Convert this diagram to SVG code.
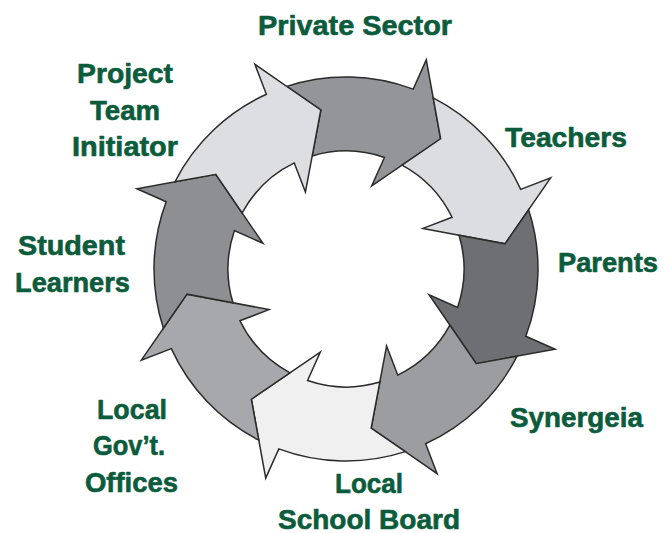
<svg xmlns="http://www.w3.org/2000/svg" xmlns:xlink="http://www.w3.org/1999/xlink" width="665" height="533" viewBox="0 0 665 533">
<style>
.arr{stroke:#2b2b2b;stroke-width:1.5;stroke-linejoin:miter;stroke-miterlimit:12}
.lbl{font-family:"Liberation Sans",Arial,sans-serif;font-weight:bold;font-size:27px;fill:#0b5c3c;stroke:#0b5c3c;stroke-width:0.6;stroke-linejoin:round}
</style>
<defs>
<path id="arrow" d="M -113.84 -113.84 L -155.31 -112.89 A 192 192 0 0 1 -51.31 -185.01 L -57.98 -216.37 L 0 -161 L -28.04 -82.36 L -34.5 -112.84 A 118 118 0 0 0 -93.8 -71.59 Z"/>
</defs>
<rect width="665" height="533" fill="#ffffff"/>
<g id="connectors"></g>
<g id="private-sector">
<use xlink:href="#arrow" href="#arrow" class="arr" fill="#949598" transform="translate(346 269) rotate(36)"/>
<text class="lbl" x="258" y="35" textLength="194" lengthAdjust="spacingAndGlyphs">Private Sector</text>
</g>
<g id="teachers">
<use xlink:href="#arrow" href="#arrow" class="arr" fill="#dcdde0" transform="translate(346 269) rotate(81)"/>
<text class="lbl" x="505" y="147" textLength="122" lengthAdjust="spacingAndGlyphs">Teachers</text>
</g>
<g id="parents">
<use xlink:href="#arrow" href="#arrow" class="arr" fill="#6e6f72" transform="translate(346 269) rotate(126)"/>
<text class="lbl" x="558" y="271.5" textLength="100" lengthAdjust="spacingAndGlyphs">Parents</text>
</g>
<g id="synergeia">
<use xlink:href="#arrow" href="#arrow" class="arr" fill="#9c9da0" transform="translate(346 269) rotate(171)"/>
<text class="lbl" x="510" y="427" textLength="133" lengthAdjust="spacingAndGlyphs">Synergeia</text>
</g>
<g id="local-school-board">
<use xlink:href="#arrow" href="#arrow" class="arr" fill="#f0f0f0" transform="translate(346 269) rotate(216)"/>
<text class="lbl" x="335" y="493" textLength="68" lengthAdjust="spacingAndGlyphs">Local</text>
<text class="lbl" x="278" y="528.5" textLength="182" lengthAdjust="spacingAndGlyphs">School Board</text>
</g>
<g id="local-govt-offices">
<use xlink:href="#arrow" href="#arrow" class="arr" fill="#a7a8ab" transform="translate(346 269) rotate(261)"/>
<text class="lbl" x="97" y="418.5" textLength="70" lengthAdjust="spacingAndGlyphs">Local</text>
<text class="lbl" x="93" y="455" textLength="72" lengthAdjust="spacingAndGlyphs">Gov’t.</text>
<text class="lbl" x="85" y="492" textLength="93" lengthAdjust="spacingAndGlyphs">Offices</text>
</g>
<g id="student-learners">
<use xlink:href="#arrow" href="#arrow" class="arr" fill="#8e8f92" transform="translate(346 269) rotate(306)"/>
<text class="lbl" x="18" y="255" textLength="107" lengthAdjust="spacingAndGlyphs">Student</text>
<text class="lbl" x="15" y="292" textLength="115" lengthAdjust="spacingAndGlyphs">Learners</text>
</g>
<g id="project-team-initiator">
<use xlink:href="#arrow" href="#arrow" class="arr" fill="#dddee1" transform="translate(346 269) rotate(351)"/>
<text class="lbl" x="77" y="82.5" textLength="96" lengthAdjust="spacingAndGlyphs">Project</text>
<text class="lbl" x="90" y="119.5" textLength="70" lengthAdjust="spacingAndGlyphs">Team</text>
<text class="lbl" x="72" y="156" textLength="106" lengthAdjust="spacingAndGlyphs">Initiator</text>
</g>
</svg>
